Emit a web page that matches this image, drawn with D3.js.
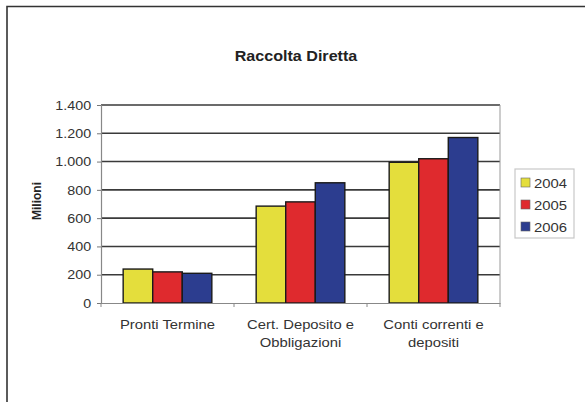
<!DOCTYPE html>
<html>
<head>
<meta charset="utf-8">
<script src="https://cdn.jsdelivr.net/npm/d3@7"></script>
<style>
  html, body { margin: 0; padding: 0; background: #fff; }
  svg { display: block; font-family: "Liberation Sans", Arial, sans-serif; }
</style>
</head>
<body>
<svg id="chart" width="585" height="402"></svg>
<script>
// Raccolta diretta per forma tecnica (milioni di euro)
const categories = [["Pronti Termine"], ["Cert. Deposito e", "Obbligazioni"], ["Conti correnti e", "depositi"]];
const years = ["2004", "2005", "2006"];
const values2004 = [240, 685, 995];
const values2005 = [220, 715, 1020];
const values2006 = [210, 850, 1170];
const yTicks = [0, 200, 400, 600, 800, 1000, 1200, 1400];
const colors = ["#e4de3c", "#df2a2e", "#2c3d8f"];

const series = [values2004, values2005, values2006];

const svg = d3.select("#chart");

// the chart's text is set slightly wide
const wide = sx => `scale(${sx},1)`;

// outer frame
svg.append("path")
  .attr("d", "M7,402 L7,6.5 L585,6.5")
  .attr("fill", "none").attr("stroke", "#333").attr("stroke-width", 1.6);

const plot = { left: 101, right: 500, top: 105, bottom: 303 };

const x0 = d3.scaleBand()
  .domain(d3.range(categories.length))
  .range([plot.left, plot.right])
  .paddingInner(0).paddingOuter(0);

const x1 = d3.scaleBand()
  .domain(d3.range(years.length))
  .range([0, x0.bandwidth()])
  .paddingInner(0)
  .paddingOuter(0.75); // gap width 150%

const y = d3.scaleLinear().domain([0, 1400]).range([plot.bottom, plot.top]);

// title
svg.append("g").attr("transform", "translate(296,61)")
  .append("text")
  .attr("transform", wide(1.15))
  .attr("text-anchor", "middle")
  .attr("font-size", 14).attr("font-weight", "bold").attr("fill", "#222")
  .text("Raccolta Diretta");

// horizontal gridlines
svg.append("g").selectAll("line")
  .data(yTicks.filter(d => d > 0))
  .join("line")
  .attr("x1", plot.left).attr("x2", plot.right)
  .attr("y1", d => y(d)).attr("y2", d => y(d))
  .attr("stroke", "#3a3a3a").attr("stroke-width", 1.6);

// right border of plot area
svg.append("line")
  .attr("x1", plot.right).attr("x2", plot.right)
  .attr("y1", plot.top).attr("y2", plot.bottom)
  .attr("stroke", "#999").attr("stroke-width", 1);

// y axis
const yAxis = d3.axisLeft(y)
  .tickValues(yTicks)
  .tickSize(4)
  .tickPadding(5)
  .tickFormat(d => d3.format(",")(d).replace(/,/g, "."));
const gy = svg.append("g")
  .attr("transform", `translate(${plot.left},0)`)
  .call(yAxis);
gy.select(".domain").attr("stroke", "#888").attr("stroke-width", 1.2);
gy.selectAll(".tick line").attr("stroke", "#777");
gy.selectAll(".tick text")
  .attr("transform", wide(1.1))
  .attr("font-size", 13).attr("fill", "#333")
  .attr("font-family", "Liberation Sans, Arial, sans-serif");

// y axis title
svg.append("text")
  .attr("transform", "translate(41,201) rotate(-90)")
  .attr("text-anchor", "middle")
  .attr("font-size", 12).attr("font-weight", "bold").attr("fill", "#222")
  .text("Milioni");

// bars
const groups = svg.append("g").selectAll("g")
  .data(categories.map((c, i) => i))
  .join("g")
  .attr("transform", i => `translate(${x0(i)},0)`);

groups.selectAll("rect")
  .data(i => series.map((s, k) => ({ k, v: s[i] })))
  .join("rect")
  .attr("x", d => x1(d.k))
  .attr("width", x1.bandwidth())
  .attr("y", d => y(d.v))
  .attr("height", d => y(0) - y(d.v))
  .attr("fill", d => colors[d.k])
  .attr("stroke", "#1a1a1a").attr("stroke-width", 1.4);

// x axis
const xAxis = d3.axisBottom(x0).tickSize(0).tickFormat("");
const gx = svg.append("g")
  .attr("transform", `translate(0,${plot.bottom})`)
  .call(xAxis);
gx.select(".domain").attr("stroke", "#888").attr("stroke-width", 1.2);
gx.selectAll(".tick").remove();

// category boundary ticks
svg.append("g").selectAll("line")
  .data(d3.range(categories.length + 1))
  .join("line")
  .attr("x1", i => plot.left + i * x0.bandwidth())
  .attr("x2", i => plot.left + i * x0.bandwidth())
  .attr("y1", plot.bottom).attr("y2", plot.bottom + 4)
  .attr("stroke", "#888");

// category labels
const labels = svg.append("g").selectAll("g")
  .data(categories.map((c, i) => ({ c, i })))
  .join("g")
  .attr("transform", d => `translate(${x0(d.i) + x0.bandwidth() / 2},329)`)
  .append("text")
  .attr("transform", wide(1.14))
  .attr("text-anchor", "middle")
  .attr("font-size", 13).attr("fill", "#333");
labels.selectAll("tspan")
  .data(d => d.c)
  .join("tspan")
  .attr("x", 0)
  .attr("dy", (d, j) => j === 0 ? 0 : 18)
  .text(d => d);

// legend
const legend = svg.append("g").attr("transform", "translate(515,169)");
legend.append("rect")
  .attr("x", 0).attr("y", 0).attr("width", 59).attr("height", 69)
  .attr("fill", "#fff").attr("stroke", "#c8c8c8").attr("stroke-width", 1.2);
const items = legend.selectAll("g.item")
  .data(years)
  .join("g")
  .attr("class", "item")
  .attr("transform", (d, i) => `translate(6,${9 + i * 22})`);
items.append("rect")
  .attr("width", 9).attr("height", 9)
  .attr("fill", (d, i) => colors[i])
  .attr("stroke", "#666").attr("stroke-width", 0.6);
items.append("g").attr("transform", "translate(13,9.5)")
  .append("text")
  .attr("transform", wide(1.1))
  .attr("font-size", 13.5).attr("fill", "#333")
  .text(d => d);
</script>
</body>
</html>
